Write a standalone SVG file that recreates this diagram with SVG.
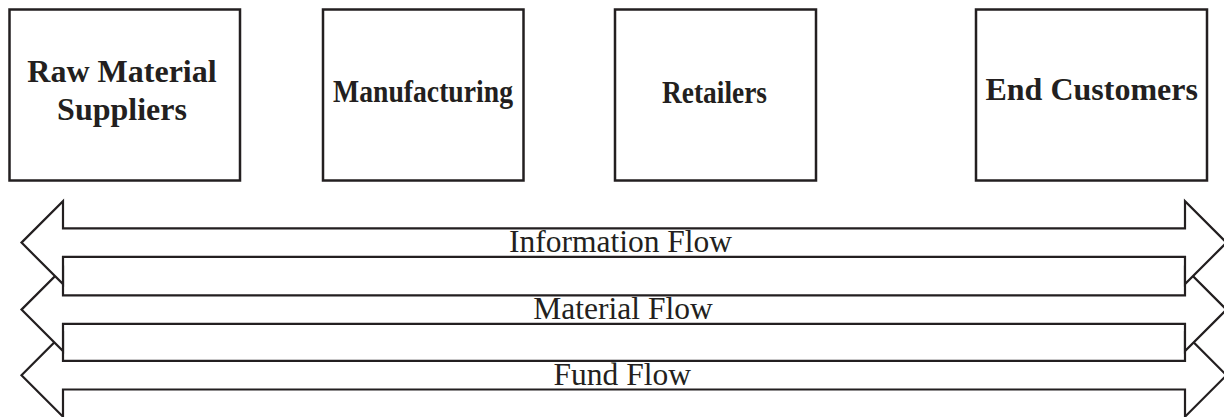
<svg xmlns="http://www.w3.org/2000/svg" width="1224" height="417" viewBox="0 0 1224 417">
  <style>
    .box { fill: #ffffff; stroke: #231f20; stroke-width: 2.5; }
    .arrow { fill: #ffffff; stroke: #231f20; stroke-width: 2.2; stroke-linejoin: miter; }
    .node-label { font-family: "Liberation Serif", "Times New Roman", serif; font-weight: bold; font-size: 32px; fill: #231f20; text-anchor: middle; }
    .flow-label { font-family: "Liberation Serif", "Times New Roman", serif; font-size: 31.5px; fill: #231f20; text-anchor: middle; }
  </style>
  <rect width="1224" height="417" fill="#ffffff"/>

  <g id="node-raw-material-suppliers">
    <rect class="box" x="9.5" y="9.5" width="230.5" height="171"/>
    <text class="node-label" x="122" y="82">Raw Material</text>
    <text class="node-label" x="122" y="119.5">Suppliers</text>
  </g>
  <g id="node-manufacturing">
    <rect class="box" x="323" y="9.5" width="200.5" height="171"/>
    <text class="node-label" x="423" y="101.7" textLength="180" lengthAdjust="spacingAndGlyphs">Manufacturing</text>
  </g>
  <g id="node-retailers">
    <rect class="box" x="615" y="9.5" width="201" height="171"/>
    <text class="node-label" x="714.5" y="103" textLength="105" lengthAdjust="spacingAndGlyphs">Retailers</text>
  </g>
  <g id="node-end-customers">
    <rect class="box" x="976" y="9.5" width="231" height="171"/>
    <text class="node-label" x="1091.7" y="100">End Customers</text>
  </g>

  <g id="connectors">
    <g id="fund-flow">
      <path class="arrow" d="M21.5 375.2 L63 333.7 L63 360.9 L1185 360.9 L1185 333.7 L1226.5 375.2 L1185 416.7 L1185 389.5 L63 389.5 L63 416.7 Z"/>
      <text class="flow-label" x="622.3" y="385">Fund Flow</text>
    </g>
    <g id="material-flow">
      <path class="arrow" d="M21.5 309.6 L63 268.1 L63 295.3 L1185 295.3 L1185 268.1 L1226.5 309.6 L1185 351.1 L1185 323.9 L63 323.9 L63 351.1 Z"/>
      <text class="flow-label" x="623" y="319.3">Material Flow</text>
    </g>
    <g id="information-flow">
      <path class="arrow" d="M21.5 242.6 L63 201.1 L63 228.3 L1185 228.3 L1185 201.1 L1226.5 242.6 L1185 284.1 L1185 256.9 L63 256.9 L63 284.1 Z"/>
      <text class="flow-label" x="620.5" y="252.3">Information Flow</text>
    </g>
  </g>
</svg>
